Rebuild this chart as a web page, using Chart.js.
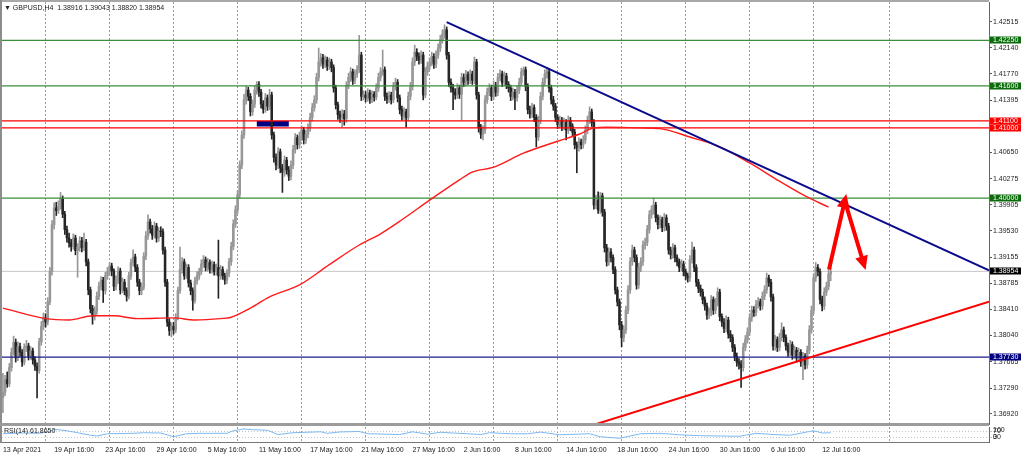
<!DOCTYPE html>
<html>
<head>
<meta charset="utf-8">
<title>GBPUSD,H4</title>
<script src="https://cdn.jsdelivr.net/npm/chart.js@4.4.1/dist/chart.umd.min.js"></script>
<style>
  html, body { margin: 0; padding: 0; background: #fff; }
  #wrap { position: relative; width: 1024px; height: 455px; overflow: hidden; background: #fff; }
  #main { position: absolute; left: 0; top: 0; }
  #rsi { position: absolute; left: 0; top: 424px; }
  .edgeT { position: absolute; left: 0; top: 0; width: 989px; height: 2px; background: #a8a8a8; }
  .edgeL { position: absolute; left: 0; top: 0; width: 2px; height: 443px; background: #8c8c8c; }
  .sep { position: absolute; left: 0; top: 423px; width: 989px; height: 3px; background: #9c9c9c; }
  .txt { position: absolute; font: 7px "Liberation Sans", Arial, sans-serif; color: #222; white-space: pre; }
</style>
</head>
<body>
<div id="wrap">
  <canvas id="main" width="1024" height="425"></canvas>
  <canvas id="rsi" width="1024" height="31"></canvas>
  <div class="edgeT"></div>
  <div class="edgeL"></div>
  <div class="sep"></div>
  <div class="txt" id="hdr" style="left:4px;top:4px"></div>
  <div class="txt" id="rsiLbl" style="left:4px;top:427px"></div>
</div>
<script>
const FONT = '"Liberation Sans", Arial, sans-serif'
Chart.defaults.font.family = FONT
Chart.defaults.font.size = 7
Chart.defaults.color = "#222"
Chart.defaults.elements.point.radius = 0
Chart.defaults.elements.point.hoverRadius = 0

const symbol = "GBPUSD,H4"

// H4 candles, 13 Apr 2021 16:00 .. 13 Jul 2021 08:00
const opens = [1.3715,1.3723,1.3741,1.3735,1.3758,1.3780,1.3794,1.3772,1.3788,1.3780,
1.3766,1.3787,1.3789,1.3774,1.3782,1.3769,1.3760,1.3754,1.3795,1.3817,
1.3829,1.3823,1.3852,1.3895,1.3962,1.3986,1.3982,1.3988,1.3999,1.3977,
1.3955,1.3943,1.3936,1.3931,1.3943,1.3925,1.3930,1.3939,1.3929,1.3937,
1.3909,1.3869,1.3842,1.3831,1.3839,1.3860,1.3874,1.3883,1.3868,1.3889,
1.3895,1.3903,1.3896,1.3874,1.3883,1.3896,1.3869,1.3880,1.3868,1.3860,
1.3889,1.3908,1.3916,1.3901,1.3880,1.3868,1.3873,1.3917,1.3946,1.3966,
1.3956,1.3947,1.3960,1.3943,1.3953,1.3952,1.3926,1.3880,1.3823,1.3811,
1.3817,1.3812,1.3830,1.3868,1.3898,1.3909,1.3889,1.3901,1.3879,1.3868,
1.3854,1.3882,1.3889,1.3895,1.3906,1.3912,1.3901,1.3908,1.3898,1.3905,
1.3895,1.3901,1.3889,1.3898,1.3889,1.3883,1.3893,1.3909,1.3931,1.3963,
1.3983,1.4005,1.4047,1.4090,1.4140,1.4154,1.4145,1.4123,1.4134,1.4154,
1.4162,1.4151,1.4134,1.4127,1.4143,1.4131,1.4147,1.4090,1.4058,1.4047,
1.4066,1.4043,1.4037,1.4054,1.4040,1.4031,1.4047,1.4069,1.4086,1.4076,
1.4088,1.4097,1.4083,1.4091,1.4100,1.4115,1.4129,1.4140,1.4172,1.4194,
1.4200,1.4191,1.4197,1.4188,1.4194,1.4186,1.4157,1.4133,1.4119,1.4115,
1.4120,1.4113,1.4161,1.4172,1.4180,1.4168,1.4177,1.4183,1.4204,1.4145,
1.4147,1.4143,1.4150,1.4141,1.4148,1.4144,1.4157,1.4172,1.4180,1.4183,
1.4145,1.4141,1.4147,1.4140,1.4159,1.4165,1.4143,1.4126,1.4117,1.4123,
1.4115,1.4145,1.4159,1.4194,1.4208,1.4202,1.4197,1.4204,1.4147,1.4180,
1.4188,1.4194,1.4202,1.4191,1.4204,1.4214,1.4226,1.4234,1.4240,1.4204,
1.4165,1.4157,1.4151,1.4147,1.4157,1.4148,1.4172,1.4165,1.4176,1.4168,
1.4177,1.4168,1.4194,1.4147,1.4100,1.4091,1.4097,1.4140,1.4151,1.4157,
1.4145,1.4161,1.4151,1.4172,1.4177,1.4165,1.4174,1.4162,1.4157,1.4145,
1.4151,1.4143,1.4154,1.4165,1.4180,1.4183,1.4159,1.4126,1.4120,1.4129,
1.4115,1.4087,1.4111,1.4145,1.4165,1.4177,1.4180,1.4157,1.4140,1.4131,
1.4115,1.4105,1.4111,1.4102,1.4108,1.4097,1.4111,1.4102,1.4094,1.4076,
1.4072,1.4080,1.4076,1.4083,1.4097,1.4111,1.4123,1.4108,1.3990,1.3997,
1.3983,1.4003,1.3980,1.3929,1.3909,1.3923,1.3915,1.3898,1.3869,1.3852,
1.3819,1.3801,1.3812,1.3840,1.3869,1.3909,1.3926,1.3915,1.3876,1.3901,
1.3909,1.3933,1.3937,1.3955,1.3976,1.3983,1.3990,1.3972,1.3962,1.3969,
1.3958,1.3972,1.3960,1.3926,1.3919,1.3929,1.3915,1.3909,1.3901,1.3906,
1.3895,1.3889,1.3886,1.3912,1.3926,1.3901,1.3880,1.3871,1.3866,1.3855,
1.3846,1.3833,1.3837,1.3855,1.3840,1.3851,1.3866,1.3831,1.3823,1.3814,
1.3826,1.3806,1.3801,1.3787,1.3774,1.3766,1.3763,1.3758,1.3787,1.3798,
1.3809,1.3829,1.3840,1.3837,1.3848,1.3852,1.3846,1.3860,1.3869,1.3886,
1.3880,1.3859,1.3789,1.3798,1.3787,1.3801,1.3812,1.3801,1.3789,1.3780,
1.3791,1.3776,1.3783,1.3772,1.3780,1.3766,1.3774,1.3762,1.3783,1.3812,
1.3840,1.3886,1.3901,1.3895,1.3855,1.3846,1.3866,1.3874,1.38916]

const highs = [1.3750,1.3747,1.3752,1.3764,1.3786,1.3803,1.3799,1.3795,1.3793,1.3784,
1.3792,1.3797,1.3793,1.3788,1.3786,1.3774,1.3765,1.3800,1.3824,1.3836,
1.3835,1.3858,1.3901,1.3968,1.3993,1.3994,1.3996,1.4008,1.4003,1.3981,
1.3960,1.3950,1.3941,1.3949,1.3947,1.3935,1.3945,1.3944,1.3950,1.3941,
1.3913,1.3873,1.3847,1.3845,1.3866,1.3880,1.3888,1.3887,1.3894,1.3901,
1.3908,1.3907,1.3899,1.3889,1.3902,1.3900,1.3886,1.3884,1.3872,1.3894,
1.3913,1.3926,1.3920,1.3905,1.3884,1.3879,1.3922,1.3952,1.3976,1.3970,
1.3961,1.3966,1.3964,1.3958,1.3959,1.3956,1.3930,1.3884,1.3828,1.3822,
1.3823,1.3835,1.3873,1.3930,1.3915,1.3913,1.3906,1.3905,1.3883,1.3872,
1.3887,1.3895,1.3900,1.3912,1.3918,1.3916,1.3914,1.3912,1.3910,1.3909,
1.3906,1.3940,1.3904,1.3902,1.3893,1.3898,1.3914,1.3937,1.3969,1.3989,
1.4011,1.4053,1.4096,1.4148,1.4160,1.4158,1.4149,1.4140,1.4160,1.4166,
1.4166,1.4155,1.4139,1.4149,1.4147,1.4155,1.4151,1.4094,1.4063,1.4072,
1.4070,1.4048,1.4060,1.4058,1.4045,1.4053,1.4075,1.4092,1.4090,1.4094,
1.4103,1.4101,1.4097,1.4106,1.4121,1.4135,1.4146,1.4178,1.4214,1.4206,
1.4205,1.4203,1.4201,1.4200,1.4198,1.4190,1.4161,1.4137,1.4124,1.4126,
1.4125,1.4166,1.4178,1.4186,1.4184,1.4183,1.4189,1.4232,1.4208,1.4153,
1.4152,1.4156,1.4154,1.4153,1.4152,1.4163,1.4178,1.4186,1.4211,1.4187,
1.4150,1.4152,1.4151,1.4165,1.4171,1.4169,1.4147,1.4131,1.4129,1.4127,
1.4151,1.4165,1.4200,1.4218,1.4213,1.4207,1.4210,1.4208,1.4186,1.4194,
1.4200,1.4208,1.4206,1.4210,1.4220,1.4232,1.4240,1.4247,1.4244,1.4208,
1.4170,1.4162,1.4156,1.4163,1.4161,1.4178,1.4177,1.4182,1.4180,1.4183,
1.4181,1.4201,1.4198,1.4151,1.4105,1.4103,1.4146,1.4157,1.4163,1.4161,
1.4167,1.4165,1.4178,1.4183,1.4181,1.4180,1.4178,1.4166,1.4161,1.4157,
1.4155,1.4160,1.4171,1.4185,1.4187,1.4187,1.4163,1.4131,1.4135,1.4133,
1.4119,1.4117,1.4151,1.4171,1.4183,1.4186,1.4184,1.4161,1.4145,1.4135,
1.4119,1.4117,1.4115,1.4114,1.4112,1.4117,1.4115,1.4106,1.4098,1.4080,
1.4086,1.4084,1.4089,1.4103,1.4117,1.4130,1.4127,1.4112,1.4004,1.4009,
1.4008,1.4007,1.3984,1.3934,1.3929,1.3928,1.3919,1.3902,1.3873,1.3856,
1.3824,1.3818,1.3846,1.3875,1.3915,1.3933,1.3930,1.3919,1.3907,1.3915,
1.3939,1.3943,1.3961,1.3982,1.3989,1.4000,1.3994,1.3976,1.3975,1.3973,
1.3978,1.3976,1.3964,1.3930,1.3935,1.3933,1.3919,1.3913,1.3912,1.3910,
1.3899,1.3893,1.3918,1.3937,1.3930,1.3905,1.3884,1.3876,1.3870,1.3859,
1.3850,1.3843,1.3861,1.3859,1.3857,1.3872,1.3870,1.3835,1.3828,1.3832,
1.3830,1.3811,1.3805,1.3791,1.3779,1.3771,1.3768,1.3793,1.3804,1.3815,
1.3835,1.3846,1.3845,1.3854,1.3858,1.3856,1.3866,1.3875,1.3893,1.3890,
1.3884,1.3863,1.3804,1.3802,1.3807,1.3822,1.3816,1.3805,1.3793,1.3797,
1.3795,1.3789,1.3787,1.3786,1.3784,1.3780,1.3778,1.3789,1.3818,1.3846,
1.3892,1.3908,1.3905,1.3899,1.3860,1.3872,1.3880,1.3898,1.39043]

const lows = [1.3694,1.3718,1.3730,1.3731,1.3753,1.3776,1.3766,1.3768,1.3774,1.3760,
1.3762,1.3781,1.3769,1.3770,1.3763,1.3754,1.3715,1.3750,1.3790,1.3812,
1.3816,1.3819,1.3848,1.3890,1.3956,1.3975,1.3978,1.3984,1.3972,1.3948,
1.3937,1.3930,1.3924,1.3927,1.3919,1.3887,1.3924,1.3923,1.3925,1.3903,
1.3862,1.3836,1.3820,1.3826,1.3834,1.3855,1.3869,1.3851,1.3863,1.3884,
1.3890,1.3889,1.3868,1.3869,1.3878,1.3863,1.3865,1.3862,1.3853,1.3856,
1.3884,1.3903,1.3895,1.3874,1.3862,1.3862,1.3869,1.3912,1.3941,1.3950,
1.3941,1.3943,1.3937,1.3938,1.3945,1.3920,1.3874,1.3817,1.3804,1.3802,
1.3806,1.3808,1.3826,1.3864,1.3893,1.3884,1.3885,1.3873,1.3862,1.3840,
1.3850,1.3877,1.3884,1.3891,1.3901,1.3896,1.3896,1.3893,1.3893,1.3890,
1.3890,1.3857,1.3884,1.3884,1.3877,1.3878,1.3888,1.3904,1.3926,1.3958,
1.3978,1.4000,1.4042,1.4085,1.4134,1.4139,1.4117,1.4118,1.4129,1.4148,
1.4145,1.4128,1.4121,1.4122,1.4125,1.4126,1.4084,1.4051,1.4040,1.4042,
1.4036,1.4008,1.4031,1.4034,1.4025,1.4026,1.4042,1.4064,1.4070,1.4071,
1.4082,1.4077,1.4078,1.4086,1.4095,1.4110,1.4124,1.4135,1.4167,1.4188,
1.4185,1.4186,1.4182,1.4183,1.4180,1.4151,1.4127,1.4112,1.4108,1.4101,
1.4104,1.4108,1.4156,1.4166,1.4162,1.4163,1.4172,1.4179,1.4139,1.4140,
1.4137,1.4138,1.4135,1.4136,1.4138,1.4140,1.4152,1.4167,1.4175,1.4139,
1.4135,1.4136,1.4134,1.4136,1.4154,1.4137,1.4120,1.4111,1.4112,1.4101,
1.4110,1.4140,1.4154,1.4189,1.4196,1.4191,1.4192,1.4140,1.4143,1.4175,
1.4183,1.4189,1.4185,1.4186,1.4199,1.4209,1.4221,1.4228,1.4198,1.4159,
1.4151,1.4126,1.4141,1.4142,1.4142,1.4111,1.4159,1.4160,1.4162,1.4163,
1.4162,1.4163,1.4141,1.4094,1.4085,1.4083,1.4092,1.4135,1.4146,1.4139,
1.4140,1.4145,1.4146,1.4167,1.4159,1.4160,1.4156,1.4151,1.4139,1.4140,
1.4126,1.4138,1.4149,1.4160,1.4175,1.4153,1.4120,1.4114,1.4115,1.4109,
1.4073,1.4082,1.4106,1.4140,1.4160,1.4171,1.4151,1.4134,1.4125,1.4109,
1.4099,1.4100,1.4096,1.4097,1.4083,1.4092,1.4096,1.4088,1.4070,1.4036,
1.4067,1.4070,1.4071,1.4078,1.4092,1.4106,1.4102,1.3984,1.3985,1.3978,
1.3978,1.3974,1.3923,1.3903,1.3904,1.3909,1.3892,1.3863,1.3846,1.3812,
1.3788,1.3795,1.3807,1.3835,1.3864,1.3904,1.3909,1.3870,1.3871,1.3895,
1.3904,1.3927,1.3932,1.3950,1.3971,1.3977,1.3966,1.3956,1.3957,1.3952,
1.3953,1.3954,1.3920,1.3913,1.3914,1.3909,1.3903,1.3895,1.3896,1.3889,
1.3883,1.3880,1.3881,1.3907,1.3895,1.3874,1.3865,1.3860,1.3849,1.3840,
1.3827,1.3828,1.3832,1.3834,1.3835,1.3846,1.3825,1.3817,1.3808,1.3809,
1.3800,1.3795,1.3781,1.3768,1.3760,1.3756,1.3730,1.3753,1.3782,1.3793,
1.3804,1.3824,1.3831,1.3832,1.3843,1.3840,1.3841,1.3855,1.3864,1.3874,
1.3853,1.3783,1.3783,1.3781,1.3782,1.3796,1.3795,1.3783,1.3774,1.3775,
1.3770,1.3771,1.3766,1.3767,1.3760,1.3741,1.3756,1.3757,1.3778,1.3807,
1.3835,1.3881,1.3889,1.3849,1.3839,1.3841,1.3861,1.3869,1.38820]

const closes = [1.3723,1.3741,1.3735,1.3758,1.3780,1.3794,1.3772,1.3788,1.3780,1.3766,
1.3787,1.3789,1.3774,1.3782,1.3769,1.3760,1.3754,1.3795,1.3817,1.3829,
1.3823,1.3852,1.3895,1.3962,1.3986,1.3982,1.3988,1.3999,1.3977,1.3955,
1.3943,1.3936,1.3931,1.3943,1.3925,1.3930,1.3939,1.3929,1.3937,1.3909,
1.3869,1.3842,1.3831,1.3839,1.3860,1.3874,1.3883,1.3868,1.3889,1.3895,
1.3903,1.3896,1.3874,1.3883,1.3896,1.3869,1.3880,1.3868,1.3860,1.3889,
1.3908,1.3916,1.3901,1.3880,1.3868,1.3873,1.3917,1.3946,1.3966,1.3956,
1.3947,1.3960,1.3943,1.3953,1.3952,1.3926,1.3880,1.3823,1.3811,1.3817,
1.3812,1.3830,1.3868,1.3898,1.3909,1.3889,1.3901,1.3879,1.3868,1.3854,
1.3882,1.3889,1.3895,1.3906,1.3912,1.3901,1.3908,1.3898,1.3905,1.3895,
1.3901,1.3889,1.3898,1.3889,1.3883,1.3893,1.3909,1.3931,1.3963,1.3983,
1.4005,1.4047,1.4090,1.4140,1.4154,1.4145,1.4123,1.4134,1.4154,1.4162,
1.4151,1.4134,1.4127,1.4143,1.4131,1.4147,1.4090,1.4058,1.4047,1.4066,
1.4043,1.4037,1.4054,1.4040,1.4031,1.4047,1.4069,1.4086,1.4076,1.4088,
1.4097,1.4083,1.4091,1.4100,1.4115,1.4129,1.4140,1.4172,1.4194,1.4200,
1.4191,1.4197,1.4188,1.4194,1.4186,1.4157,1.4133,1.4119,1.4115,1.4120,
1.4113,1.4161,1.4172,1.4180,1.4168,1.4177,1.4183,1.4204,1.4145,1.4147,
1.4143,1.4150,1.4141,1.4148,1.4144,1.4157,1.4172,1.4180,1.4183,1.4145,
1.4141,1.4147,1.4140,1.4159,1.4165,1.4143,1.4126,1.4117,1.4123,1.4115,
1.4145,1.4159,1.4194,1.4208,1.4202,1.4197,1.4204,1.4147,1.4180,1.4188,
1.4194,1.4202,1.4191,1.4204,1.4214,1.4226,1.4234,1.4240,1.4204,1.4165,
1.4157,1.4151,1.4147,1.4157,1.4148,1.4172,1.4165,1.4176,1.4168,1.4177,
1.4168,1.4194,1.4147,1.4100,1.4091,1.4097,1.4140,1.4151,1.4157,1.4145,
1.4161,1.4151,1.4172,1.4177,1.4165,1.4174,1.4162,1.4157,1.4145,1.4151,
1.4143,1.4154,1.4165,1.4180,1.4183,1.4159,1.4126,1.4120,1.4129,1.4115,
1.4087,1.4111,1.4145,1.4165,1.4177,1.4180,1.4157,1.4140,1.4131,1.4115,
1.4105,1.4111,1.4102,1.4108,1.4097,1.4111,1.4102,1.4094,1.4076,1.4072,
1.4080,1.4076,1.4083,1.4097,1.4111,1.4123,1.4108,1.3990,1.3997,1.3983,
1.4003,1.3980,1.3929,1.3909,1.3923,1.3915,1.3898,1.3869,1.3852,1.3819,
1.3801,1.3812,1.3840,1.3869,1.3909,1.3926,1.3915,1.3876,1.3901,1.3909,
1.3933,1.3937,1.3955,1.3976,1.3983,1.3990,1.3972,1.3962,1.3969,1.3958,
1.3972,1.3960,1.3926,1.3919,1.3929,1.3915,1.3909,1.3901,1.3906,1.3895,
1.3889,1.3886,1.3912,1.3926,1.3901,1.3880,1.3871,1.3866,1.3855,1.3846,
1.3833,1.3837,1.3855,1.3840,1.3851,1.3866,1.3831,1.3823,1.3814,1.3826,
1.3806,1.3801,1.3787,1.3774,1.3766,1.3763,1.3758,1.3787,1.3798,1.3809,
1.3829,1.3840,1.3837,1.3848,1.3852,1.3846,1.3860,1.3869,1.3886,1.3880,
1.3859,1.3789,1.3798,1.3787,1.3801,1.3812,1.3801,1.3789,1.3780,1.3791,
1.3776,1.3783,1.3772,1.3780,1.3766,1.3774,1.3762,1.3783,1.3812,1.3840,
1.3886,1.3901,1.3895,1.3855,1.3846,1.3866,1.3874,1.38916,1.38954]

// time axis labels (bar index where each label sits)
const timeLabels = ["13 Apr 2021","19 Apr 16:00","23 Apr 16:00","29 Apr 16:00","5 May 16:00",
  "11 May 16:00","17 May 16:00","21 May 16:00","27 May 16:00","2 Jun 16:00","8 Jun 16:00",
  "14 Jun 16:00","18 Jun 16:00","24 Jun 16:00","30 Jun 16:00","6 Jul 16:00","12 Jul 16:00"]
const labelIdx = [0,24,48,72,96,120,144,168,192,216,240,264,288,312,336,360,384]
const weekGrid = [20,50,80,110,140,170,200,230,260,290,320,350,380,415.5]

const priceTicks = [1.42515,1.42140,1.41770,1.41395,1.41025,1.40650,1.40275,1.39905,
  1.39530,1.39155,1.38785,1.38410,1.38040,1.37665,1.37290,1.36920]

// moving average (red curve), sampled along the bars
const maIdx = [0,20,31,42,52,63,80,90,102,107,116,125,139,153,167,177,187,200,214,220,
  230,244,260,270,277,283,299,308,322,336,350,364,376,387]
const maVals = [1.3843,1.3828,1.3826,1.3832,1.3832,1.3828,1.3829,1.3826,1.3828,1.3830,
  1.3843,1.3859,1.3876,1.3905,1.3933,1.3949,1.3969,1.3997,1.4026,1.4037,
  1.4044,1.4064,1.4081,1.4091,1.4100,1.4101,1.4100,1.4099,1.4087,1.4073,
  1.4050,1.4024,1.4003,1.3987]

// RSI(14) sub window
const rsiIdx = [0,8,17,22,24,27,30,35,41,44,49,61,66,74,80,86,92,105,108,113,
  117,124,129,136,149,152,158,167,171,186,192,199,205,211,218,224,228,238,246,252,
  261,275,280,289,299,308,317,327,345,353,361,369,378,380,384,388]
const rsiVals = [55,60,58,70,85,80,75,62,45,40,55,58,62,60,35,55,58,58,75,87,
  82,78,50,62,68,58,67,70,55,50,68,52,65,60,55,50,62,55,55,66,
  48,55,35,25,55,58,48,42,38,58,50,45,70,75,60,61.865]

// drawn objects
const greenLevels = [1.4225, 1.4160, 1.4000]
const redLevels = [1.4110, 1.4100]
const blueLevels = [1.3773]
const blueTrendX = [208, 462.2], blueTrendY = [1.4251, 1.3897]
const redTrendX = [270, 462.2], redTrendY = [1.3670, 1.3852]
const arrowX = [387.2, 394.6, 403.4], arrowY = [1.3898, 1.3996, 1.3907]
const zoneX = [119, 134], zoneY = [1.4110, 1.4102]

const xMin = -0.436, xMax = 462.2
const yMin = 1.36777, yMax = 1.42796

const last = closes.length - 1
const bid = closes[last]

document.getElementById("hdr").textContent = "\u25BC " + symbol + "  " +
  [opens[last], highs[last], lows[last], closes[last]].map((v) => v.toFixed(5)).join(" ")
document.getElementById("rsiLbl").textContent = "RSI(14) " + rsiVals[rsiVals.length - 1].toFixed(4)

const pts = (xs, ys) => xs.map((x, k) => ({ x: x, y: ys[k] }))
const hline = (v) => [{ x: xMin - 5, y: v }, { x: xMax + 5, y: v }]
const noPad = (a) => { a.paddingLeft = 0; a.paddingRight = 0; a.paddingTop = 0; a.paddingBottom = 0 }

const candleCol = closes.map((c, i) => (c >= opens[i] ? "#979797" : "#252525"))
const wicks = closes.map((c, i) => ({ x: i, y: [lows[i], highs[i]] }))
const bodies = closes.map((c, i) => ({ x: i, y: [opens[i], c] }))

const tags = [
  ...greenLevels.map((v) => ({ v: v, c: "#0c6c0c" })),
  ...redLevels.map((v) => ({ v: v, c: "#ff0000" })),
  { v: bid, c: "#000000" },
  ...blueLevels.map((v) => ({ v: v, c: "#000080" })),
]

const drawings = {
  id: "drawings",
  beforeDatasetsDraw(chart) {
    const { ctx, scales: { x, y } } = chart
    const x0 = x.getPixelForValue(zoneX[0]), x1 = x.getPixelForValue(zoneX[1])
    const y0 = y.getPixelForValue(zoneY[0]), y1 = y.getPixelForValue(zoneY[1])
    ctx.save()
    ctx.fillStyle = "#000080"
    ctx.fillRect(x0, y0, x1 - x0, y1 - y0)
    ctx.restore()
  },
  afterDatasetsDraw(chart) {
    const { ctx, scales: { x, y } } = chart
    const p = arrowX.map((v, k) => [x.getPixelForValue(v), y.getPixelForValue(arrowY[k])])
    const head = (a, b) => {
      const dx = b[0] - a[0], dy = b[1] - a[1]
      const len = Math.hypot(dx, dy)
      const ux = dx / len, uy = dy / len
      const tx = b[0] + ux * 7, ty = b[1] + uy * 7
      const bx = b[0] - ux * 7, by = b[1] - uy * 7
      ctx.beginPath()
      ctx.moveTo(tx, ty)
      ctx.lineTo(bx - uy * 6.5, by + ux * 6.5)
      ctx.lineTo(bx + uy * 6.5, by - ux * 6.5)
      ctx.closePath()
      ctx.fill()
    }
    ctx.save()
    ctx.fillStyle = "#ff0000"
    head(p[0], p[1])
    head(p[1], p[2])
    ctx.restore()
  },
  afterDraw(chart) {
    const { ctx, scales: { y } } = chart
    ctx.save()
    ctx.font = "7px " + FONT
    ctx.textBaseline = "middle"
    tags.forEach((t) => {
      const py = Math.round(y.getPixelForValue(t.v))
      ctx.fillStyle = t.c
      ctx.fillRect(y.left + 1, py - 3.5, 31, 7)
      ctx.fillStyle = "#fff"
      ctx.fillText(t.v.toFixed(5), y.left + 4, py + 0.5)
    })
    ctx.restore()
  },
}

const lineDs = (data, color, width, order, extra) =>
  Object.assign({ type: "line", data: data, borderColor: color, borderWidth: width, fill: false, order: order }, extra || {})

new Chart(document.getElementById("main"), {
  type: "bar",
  data: {
    datasets: [
      lineDs(hline(bid), "#c6c6c6", 1, 20),
      { type: "bar", data: wicks, backgroundColor: candleCol, barThickness: 1, grouped: false, order: 12 },
      { type: "bar", data: bodies, backgroundColor: candleCol, barThickness: 1.9, grouped: false, order: 11 },
      ...greenLevels.map((v) => lineDs(hline(v), "#3a8e3a", 1.3, 5)),
      ...redLevels.map((v) => lineDs(hline(v), "#ff0000", 1.3, 5)),
      ...blueLevels.map((v) => lineDs(hline(v), "#1c1c8a", 1.3, 5)),
      lineDs(pts(maIdx, maVals), "#ff1a1a", 1.4, 4, { cubicInterpolationMode: "monotone" }),
      lineDs(pts(blueTrendX, blueTrendY), "#0a0a8c", 2, 3),
      lineDs(pts(redTrendX, redTrendY), "#ff0000", 2, 3),
      lineDs(pts(arrowX, arrowY), "#ff0000", 4, 1, { borderJoinStyle: "bevel" }),
    ],
  },
  options: {
    responsive: false,
    animation: false,
    events: [],
    devicePixelRatio: 1,
    layout: { padding: { left: 2, top: 2, right: 0, bottom: 1 } },
    plugins: { legend: { display: false }, tooltip: { enabled: false } },
    scales: {
      x: {
        type: "linear", min: xMin, max: xMax, offset: false,
        afterBuildTicks: (a) => { a.ticks = weekGrid.map((v) => ({ value: v })) },
        afterFit: (a) => { a.height = 0; noPad(a) },
        ticks: { display: false },
        grid: { color: "#9a9a9a", drawTicks: false, offset: false },
        border: { display: false, dash: [2, 2] },
      },
      y: {
        position: "right", min: yMin, max: yMax,
        afterBuildTicks: (a) => { a.ticks = priceTicks.map((v) => ({ value: v })) },
        afterFit: (a) => { a.width = 35; noPad(a) },
        ticks: { callback: (v) => v.toFixed(5), padding: 1, color: "#222" },
        grid: { drawOnChartArea: false, tickLength: 3, color: "#555" },
        border: { color: "#666" },
      },
    },
  },
  plugins: [drawings],
})

const rsiText = {
  id: "rsiText",
  afterDraw(chart) {
    const { ctx, scales: { y } } = chart
    ctx.save()
    ctx.font = "7px " + FONT
    ctx.fillStyle = "#222"
    ctx.textBaseline = "middle"
    ctx.fillText("100", y.left + 4, y.getPixelForValue(70) - 1)
    ctx.fillText("0", y.left + 4, y.getPixelForValue(30))
    ctx.restore()
  },
}

new Chart(document.getElementById("rsi"), {
  type: "line",
  data: {
    datasets: [
      { data: pts(rsiIdx, rsiVals), borderColor: "#7db8f0", borderWidth: 1, fill: false, tension: 0 },
    ],
  },
  options: {
    responsive: false,
    animation: false,
    events: [],
    devicePixelRatio: 1,
    layout: { padding: { left: 2, top: 3, right: 0, bottom: 0 } },
    plugins: { legend: { display: false }, tooltip: { enabled: false } },
    scales: {
      x: {
        type: "linear", min: xMin, max: xMax, offset: false,
        afterBuildTicks: (a) => { a.ticks = labelIdx.map((v) => ({ value: v })) },
        afterFit: (a) => { a.height = 13; noPad(a) },
        ticks: { align: "start", maxRotation: 0, autoSkip: false, padding: 4, color: "#222",
          callback: (v, k) => timeLabels[k] },
        grid: { display: false, drawTicks: false },
        border: { color: "#777" },
      },
      xg: {
        type: "linear", position: "bottom", min: xMin, max: xMax, offset: false,
        afterBuildTicks: (a) => { a.ticks = weekGrid.map((v) => ({ value: v })) },
        afterFit: (a) => { a.height = 0; noPad(a) },
        ticks: { display: false },
        grid: { color: "#9a9a9a", drawTicks: false },
        border: { display: false, dash: [2, 2] },
      },
      y: {
        position: "right", min: 0, max: 100,
        afterBuildTicks: (a) => { a.ticks = [{ value: 70 }, { value: 30 }] },
        afterFit: (a) => { a.width = 35; noPad(a) },
        ticks: { padding: 1, color: "#222", callback: (v) => String(v) },
        grid: { color: "#c4c4c4", tickLength: 3 },
        border: { color: "#666", dash: [1, 2] },
      },
    },
  },
  plugins: [rsiText],
})
</script>
</body>
</html>
